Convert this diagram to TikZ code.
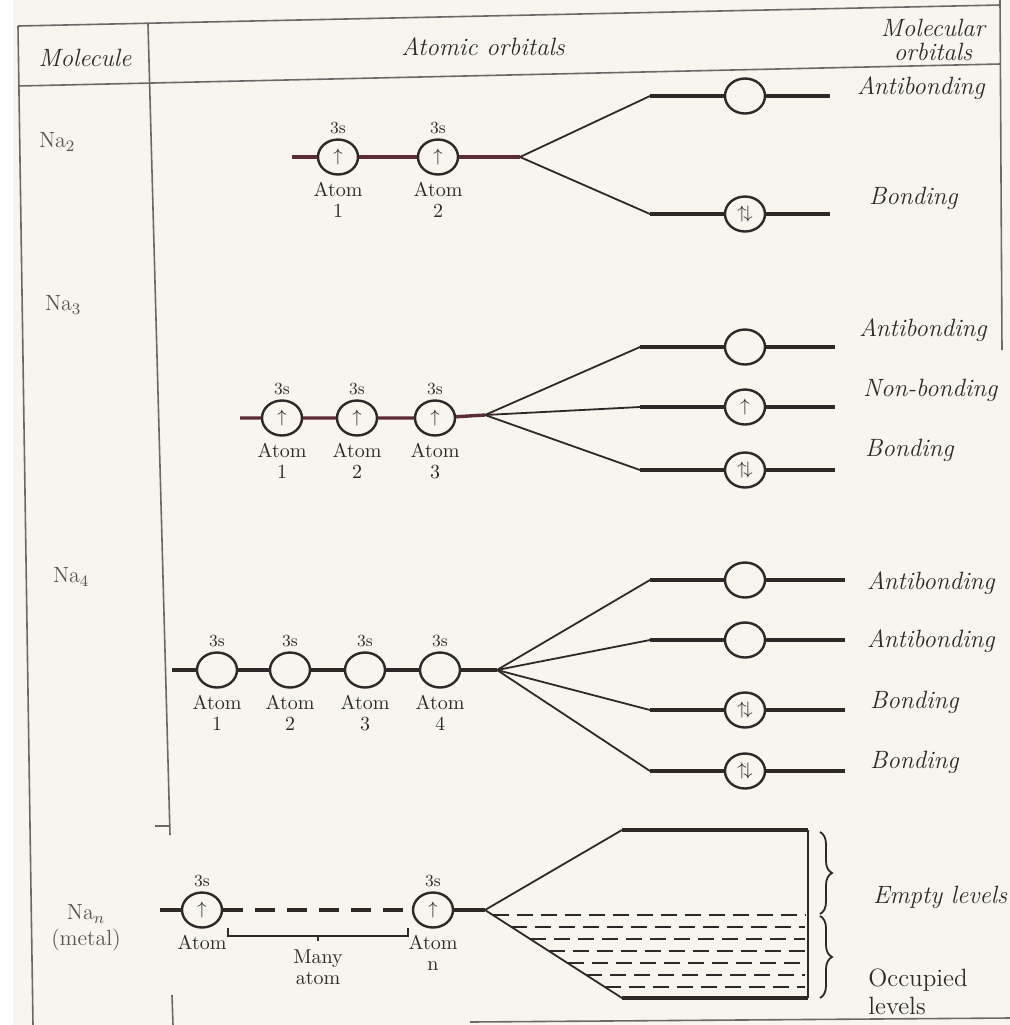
\documentclass[tikz,border=0pt]{standalone}
\usetikzlibrary{positioning,shapes.geometric,decorations.pathreplacing}
\definecolor{paper}{RGB}{248,245,239}
\definecolor{ink}{RGB}{46,40,40}
\definecolor{inkred}{RGB}{92,44,56}
\newcommand{\spinup}{$\uparrow$}
\newcommand{\spinpair}{$\uparrow\!\downarrow$}
\tikzset{
  orb/.style={ellipse,draw=ink,line width=1.2pt,minimum width=20pt,minimum height=17.5pt,inner sep=0pt,text=ink,font=\fontsize{9}{9}\selectfont},
  lvl/.style={draw=ink,line width=1.7pt},
  fan/.style={draw=ink,line width=0.9pt},
  frame/.style={draw=ink!70,line width=0.8pt},
  hdr/.style={font=\fontsize{12.5}{14}\selectfont\itshape,text=ink,align=center},
  mo/.style={font=\fontsize{12.5}{14}\selectfont\itshape,text=ink,anchor=west},
  sub/.style={font=\fontsize{8.5}{9}\selectfont,text=ink,inner sep=1pt},
  atm/.style={font=\fontsize{10}{10.5}\selectfont,text=ink,align=center,inner sep=1pt},
  mol/.style={font=\fontsize{11}{13}\selectfont,text=ink!80,align=center},
}
\begin{document}
\begin{tikzpicture}[x=0.5pt,y=-0.5pt]
\useasboundingbox (0,0) rectangle (1010,1025);
\fill[paper] (0,0) rectangle (1010,1025);
\fill[white] (0,0) rectangle (13,1025);
% table frame
\coordinate (ftl) at (18,26);
\coordinate (ftr) at (1000,5);
\coordinate (fhl) at (18,86);
\coordinate (fhr) at (1000,64);
\draw[frame] (ftl) -- (ftr);
\draw[frame] (fhl) -- (fhr);
\draw[frame] (ftl) -- (33,1025);
\draw[frame] (148,24) -- (170,835);
\draw[frame] (155,826) -- (170,826);
\draw[frame] (172,995) -- (173,1025);
\draw[frame] (1000,0) -- (1002,350);
\draw[frame] (470,1022) -- (1010,1018);
\node[hdr] (hmol) at (85,58) {Molecule};
\node[hdr] (hao) at (483,47) {Atomic orbitals};
\node[hdr] (hmo) at (933,40) {Molecular\\[-2pt]orbitals};
% Na2
\node[mol,anchor=west] (na2) at (32,142) {Na$_2$};
\coordinate (l2) at (292,157);
\coordinate (x2) at (520,157);
\foreach \i/\xx in {1/338,2/438}{
  \node[orb] (a2\i) at (\xx,157) {\spinup};
  \node[sub,above=1pt of a2\i] (s2\i) {3s};
  \node[atm,below=2pt of a2\i] (t2\i) {Atom\\\i};
}
\draw[lvl,draw=inkred] (l2) -- (a21) -- (a22) -- (x2);
\foreach \k/\yy/\sp in {a/96/{},b/214/\spinpair}{
  \coordinate (c2\k) at (650,\yy);
  \node[orb] (m2\k) at (745,\yy) {\sp};
  \coordinate (e2\k) at (830,\yy);
  \draw[fan] (x2) -- (c2\k);
  \draw[lvl] (c2\k) -- (m2\k) -- (e2\k);
}
\node[mo] (b2a) at (850,88) {Antibonding};
\node[mo] (b2b) at (862,198) {Bonding};
% Na3
\node[mol,anchor=west] (na3) at (38,305) {Na$_3$};
\coordinate (l3) at (240,418);
\coordinate (x3) at (485,415);
\foreach \i/\xx in {1/282,2/357,3/435}{
  \node[orb] (a3\i) at (\xx,418) {\spinup};
  \node[sub,above=1pt of a3\i] (s3\i) {3s};
  \node[atm,below=2pt of a3\i] (t3\i) {Atom\\\i};
}
\draw[lvl,draw=inkred] (l3) -- (a31) -- (a32) -- (a33) -- (x3);
\foreach \k/\yy/\sp in {a/347/{},b/407/\spinup,c/470/\spinpair}{
  \coordinate (c3\k) at (640,\yy);
  \node[orb] (m3\k) at (745,\yy) {\sp};
  \coordinate (e3\k) at (835,\yy);
  \draw[fan] (x3) -- (c3\k);
  \draw[lvl] (c3\k) -- (m3\k) -- (e3\k);
}
\node[mo] (b3a) at (852,330) {Antibonding};
\node[mo] (b3b) at (856,390) {Non-bonding};
\node[mo] (b3c) at (858,450) {Bonding};
% Na4
\node[mol,anchor=west] (na4) at (46,577) {Na$_4$};
\coordinate (l4) at (172,670);
\coordinate (x4) at (497,670);
\foreach \i/\xx in {1/217,2/290,3/365,4/440}{
  \node[orb] (a4\i) at (\xx,670) {};
  \node[sub,above=1pt of a4\i] (s4\i) {3s};
  \node[atm,below=2pt of a4\i] (t4\i) {Atom\\\i};
}
\draw[lvl] (l4) -- (a41) -- (a42) -- (a43) -- (a44) -- (x4);
\foreach \k/\yy/\sp in {a/580/{},b/640/{},c/710/\spinpair,d/771/\spinpair}{
  \coordinate (c4\k) at (650,\yy);
  \node[orb] (m4\k) at (745,\yy) {\sp};
  \coordinate (e4\k) at (845,\yy);
  \draw[fan] (x4) -- (c4\k);
  \draw[lvl] (c4\k) -- (m4\k) -- (e4\k);
}
\node[mo] (b4a) at (860,583) {Antibonding};
\node[mo] (b4b) at (860,641) {Antibonding};
\node[mo] (b4c) at (863,702) {Bonding};
\node[mo] (b4d) at (863,762) {Bonding};
% Na_n (metal)
\node[mol] (na5) at (86,928) {Na$_n$\\(metal)};
\coordinate (l5) at (160,910);
\coordinate (x5) at (485,910);
\node[orb] (a51) at (202,910) {\spinup};
\node[orb] (a52) at (433,910) {\spinup};
\node[sub,above=1pt of a51] (s51) {3s};
\node[sub,above=1pt of a52] (s52) {3s};
\node[atm,below=2pt of a51] (t51) {Atom};
\node[atm,below=2pt of a52] (t52) {Atom\\n};
\draw[lvl] (l5) -- (a51);
\draw[lvl,dash pattern=on 10pt off 6pt] (a51) -- (a52);
\draw[lvl] (a52) -- (x5);
\coordinate (k51) at (228,928);
\coordinate (k52) at (408,928);
\draw[fan] (k51) -- ++(0,8) -| (k52);
\draw[fan] (318,936) -- ++(0,5);
\node[atm] (many) at (318,967) {Many\\atom};
% band of levels
\coordinate (c5a) at (622,830);
\coordinate (e5a) at (808,830);
\coordinate (c5b) at (622,998);
\coordinate (e5b) at (808,998);
\draw[fan] (x5) -- (c5a);
\draw[fan] (x5) -- (c5b);
\draw[lvl] (c5a) -- (e5a);
\draw[lvl] (c5b) -- (e5b);
\draw[fan,line width=1.2pt] (e5a) -- (e5b);
\foreach \yy in {915,927,...,987}
  \draw[draw=ink,line width=1.4pt,dash pattern=on 8pt off 4pt] ({485+(\yy-910)*137/88},\yy) -- (805,\yy);
\draw[fan,decorate,decoration={brace,amplitude=6pt}] (820,832) -- (820,914);
\draw[fan,decorate,decoration={brace,amplitude=6pt}] (820,916) -- (820,998);
\node[mo] (emp) at (866,897) {Empty levels};
\node[atm,anchor=north west,align=left,font=\fontsize{12.5}{14}\selectfont] (occ) at (866,966) {Occupied\\levels};
\end{tikzpicture}
\end{document}
